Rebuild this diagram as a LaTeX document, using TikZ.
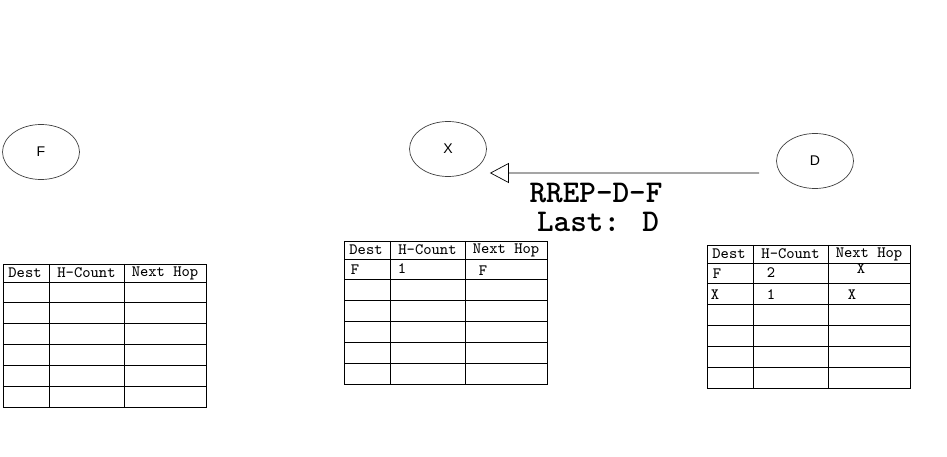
\documentclass[tikz,border=0pt]{standalone}
\usepackage{fontspec}
\setmainfont{Liberation Sans}
\usetikzlibrary{shapes.geometric,arrows.meta}

\tikzset{
	hostnode/.style={draw=black!75, ellipse, minimum width=1.54cm, minimum height=1.1cm, inner sep=0pt, font=\fontsize{8}{9}\selectfont},
	cell/.style={font=\ttfamily\fontsize{9}{10}\selectfont, inner sep=0pt},
	rrep/.style={-{Triangle[open,length=0.38cm,width=0.4cm]}},
	msg/.style={font=\ttfamily\bfseries\fontsize{18}{20}\selectfont, inner sep=0pt}
}

% routing table, top left corner at (#2,#3)
\newcommand{\routetable}[3]{%
	\begin{scope}[shift={(#2,#3)}]
		\draw (0,0) rectangle (4.06,-2.86);
		\draw (0,-0.36) -- (4.06,-0.36);
		\foreach \r in {1,...,5}
			\draw (0,-0.36-\r*0.417) -- (4.06,-0.36-\r*0.417);
		\draw (0.92,0) -- (0.92,-2.86);
		\draw (2.42,0) -- (2.42,-2.86);
		\node[cell] (#1-dest) at (0.44,-0.18) {Dest};
		\node[cell] (#1-hc) at (1.67,-0.18) {H-Count};
		\node[cell] (#1-nh) at (3.24,-0.18) {Next Hop};
	\end{scope}
}

\begin{document}
\begin{tikzpicture}
	\useasboundingbox (0,0) rectangle (18.94,9.12);
	
	% hosts
	\node[hostnode] (F) at (0.82,6.08) {F};
	\node[hostnode] (X) at (8.96,6.14) {X};
	\node[hostnode] (D) at (16.30,5.90) {D};
	
	% route reply D -> X
	\draw[rrep] ([shift={(-0.34,-0.24)}]D.west) -- ([shift={(0.06,-0.48)}]X.east);
	\node[msg] (msg1) at (11.92,5.26) {RREP-D-F};
	\node[msg] (msg2) at (11.96,4.68) {Last: D};
	
	% tables
	\routetable{tf}{0.06}{3.84}
	\routetable{tx}{6.88}{4.30}
	\routetable{td}{14.14}{4.22}
	
	% entries at X
	\node[cell] (tx-d1) at (7.10,3.73) {F};
	\node[cell] (tx-h1) at (8.04,3.74) {1};
	\node[cell] (tx-n1) at (9.66,3.70) {F};
	% entries at D
	\node[cell] (td-d1) at (14.34,3.65) {F};
	\node[cell] (td-h1) at (15.42,3.67) {2};
	\node[cell] (td-n1) at (17.22,3.74) {X};
	\node[cell] (td-d2) at (14.30,3.23) {X};
	\node[cell] (td-h2) at (15.42,3.23) {1};
	\node[cell] (td-n2) at (17.04,3.23) {X};
\end{tikzpicture}
\end{document}
